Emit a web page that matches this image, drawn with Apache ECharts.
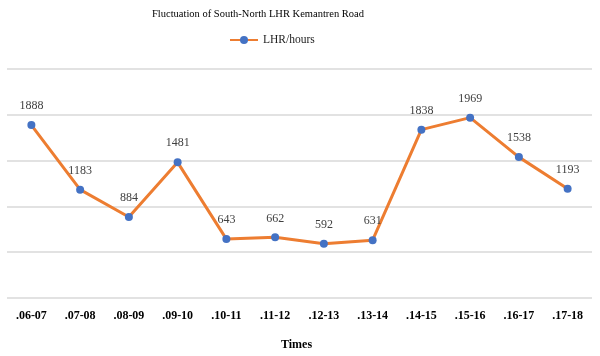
<!DOCTYPE html>
<html><head><meta charset="utf-8">
<script src="https://cdn.jsdelivr.net/npm/echarts@6/dist/echarts.min.js"></script>
<style>html,body{margin:0;padding:0;background:#fff}#c{width:600px;height:356px}</style>
</head><body><div id="c"></div>
<script>
var categories = ['.06-07','.07-08','.08-09','.09-10','.10-11','.11-12','.12-13','.13-14','.14-15','.15-16','.16-17','.17-18'];
var lhrValues = [1888, 1183, 884, 1481, 643, 662, 592, 631, 1838, 1969, 1538, 1193];
var seriesName = 'LHR/hours';
var chart = echarts.init(document.getElementById('c'), null, {renderer:'canvas'});
var serif = '"Liberation Serif", "Times New Roman", serif';
chart.setOption({
  animation:false,
  backgroundColor:'#fff',
  title:{text:'Fluctuation of South-North LHR Kemantren Road', left:253, top:4, textAlign:'center',
    textStyle:{fontFamily:serif, fontSize:10.5, fontWeight:'normal', color:'#000'}},
  legend:{data:[seriesName], left:224, top:29, itemWidth:28, itemHeight:10, itemGap:10,
    textStyle:{fontFamily:serif, fontSize:11.5, color:'#222'}},
  grid:{left:7, right:8, top:69, bottom:54},
  xAxis:{type:'category', data:categories, boundaryGap:true,
    axisLine:{show:false}, axisTick:{show:false},
    axisLabel:{fontFamily:serif, fontSize:12, fontWeight:'bold', color:'#000', margin:12},
    name:'Times', nameLocation:'middle', nameGap:41,
    nameTextStyle:{fontFamily:serif, fontSize:12, fontWeight:'bold', color:'#000', padding:[0,6,0,0]}},
  yAxis:{type:'value', min:0, max:2500, interval:500,
    axisLabel:{show:false}, axisLine:{show:false}, axisTick:{show:false},
    splitLine:{lineStyle:{color:'#d9d9d9', width:1.5}}},
  series:[{name:seriesName, type:'line', data:lhrValues,
    symbol:'circle', symbolSize:8,
    lineStyle:{color:'#ED7D31', width:3},
    itemStyle:{color:'#4472C4'},
    label:{show:true, position:'top', distance:9, fontFamily:serif, fontSize:12, color:'#404040'}}]
});
</script></body></html>
